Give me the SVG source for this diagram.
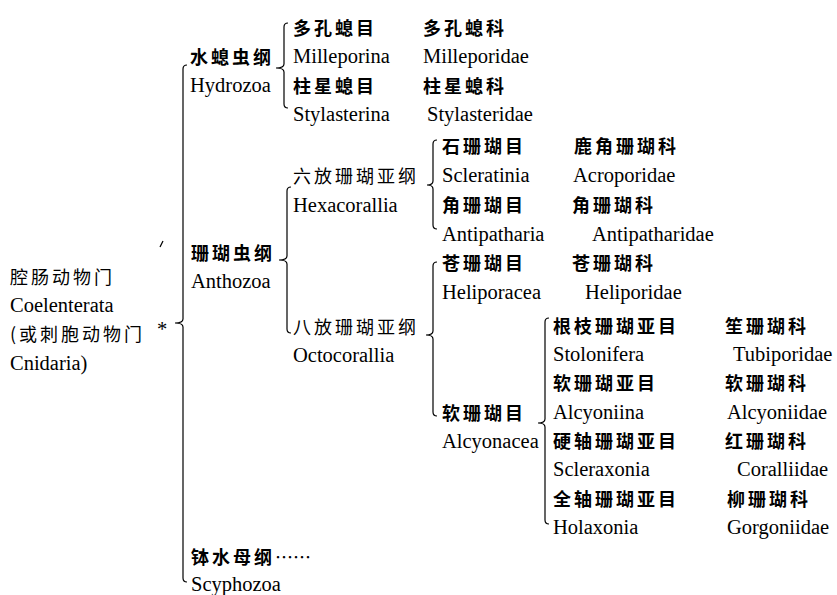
<svg xmlns="http://www.w3.org/2000/svg" width="837" height="595" viewBox="0 0 837 595">
<style>
.zh{font-family:"Noto Sans CJK SC","Noto Sans CJK TC",sans-serif;font-size:18px;font-weight:bold;letter-spacing:3px;fill:#000}
.zl{font-weight:normal}
.en{font-family:"Liberation Serif",serif;font-size:20.5px;fill:#000}
.br{fill:none;stroke:#000;stroke-width:1.2}
</style>
<rect width="837" height="595" fill="#fff"/>
<g id="connectors">
<path class="br" d="M187,65 Q183,65 183,69 L183,319 Q183,323 175,323 Q183,323 183,327 L183,578 Q183,582 187,582"/>
<path class="br" d="M288,23 Q284,23 284,27 L284,64 Q284,68 276,68 Q284,68 284,72 L284,104 Q284,108 288,108"/>
<path class="br" d="M291,187 Q287,187 287,191 L287,256 Q287,260 279,260 Q287,260 287,264 L287,329 Q287,333 291,333"/>
<path class="br" d="M437,140 Q433,140 433,144 L433,181 Q433,185 427,185 Q433,185 433,189 L433,225 Q433,229 437,229"/>
<path class="br" d="M437,262 Q433,262 433,266 L433,331 Q433,335 426,335 Q433,335 433,339 L433,412 Q433,416 437,416"/>
<path class="br" d="M549,318 Q545,318 545,322 L545,419 Q545,423 538,423 Q545,423 545,427 L545,520 Q545,524 549,524"/>
<path class="br" d="M160,247 L163,241"/>
</g>
<g id="phylum">
<text class="zh zl" x="10" y="284">腔肠动物门</text>
<text class="en" x="10" y="312">Coelenterata</text>
<text class="zh zl" x="10" y="341">(或刺胞动物门</text>
<text class="en" x="10" y="370">Cnidaria)</text>
<text class="en" x="157" y="336" font-size="18">*</text>
</g>
<g id="hydrozoa">
<text class="zh" x="190" y="64">水螅虫纲</text>
<text class="en" x="190" y="92">Hydrozoa</text>
</g>
<g id="milleporina">
<text class="zh" x="293" y="35">多孔螅目</text>
<text class="en" x="293" y="63">Milleporina</text>
</g>
<g id="milleporidae">
<text class="zh" x="423" y="35">多孔螅科</text>
<text class="en" x="423" y="63">Milleporidae</text>
</g>
<g id="stylasterina">
<text class="zh" x="293" y="93">柱星螅目</text>
<text class="en" x="293" y="121">Stylasterina</text>
</g>
<g id="stylasteridae">
<text class="zh" x="423" y="93">柱星螅科</text>
<text class="en" x="427" y="121">Stylasteridae</text>
</g>
<g id="anthozoa">
<text class="zh" x="191" y="260">珊瑚虫纲</text>
<text class="en" x="191" y="288">Anthozoa</text>
</g>
<g id="hexacorallia">
<text class="zh zl" x="293" y="183">六放珊瑚亚纲</text>
<text class="en" x="293" y="212">Hexacorallia</text>
</g>
<g id="scleratinia">
<text class="zh" x="442" y="153">石珊瑚目</text>
<text class="en" x="442" y="182">Scleratinia</text>
</g>
<g id="acroporidae">
<text class="zh" x="574" y="153">鹿角珊瑚科</text>
<text class="en" x="573" y="182">Acroporidae</text>
</g>
<g id="antipatharia">
<text class="zh" x="442" y="212">角珊瑚目</text>
<text class="en" x="442" y="241">Antipatharia</text>
</g>
<g id="antipatharidae">
<text class="zh" x="572" y="212">角珊瑚科</text>
<text class="en" x="592" y="241">Antipatharidae</text>
</g>
<g id="octocorallia">
<text class="zh zl" x="293" y="334">八放珊瑚亚纲</text>
<text class="en" x="293" y="362">Octocorallia</text>
</g>
<g id="heliporacea">
<text class="zh" x="442" y="270">苍珊瑚目</text>
<text class="en" x="442" y="299">Heliporacea</text>
</g>
<g id="heliporidae">
<text class="zh" x="572" y="270">苍珊瑚科</text>
<text class="en" x="585" y="299">Heliporidae</text>
</g>
<g id="alcyonacea">
<text class="zh" x="442" y="420">软珊瑚目</text>
<text class="en" x="442" y="448">Alcyonacea</text>
</g>
<g id="stolonifera">
<text class="zh" x="553" y="333">根枝珊瑚亚目</text>
<text class="en" x="553" y="361">Stolonifera</text>
</g>
<g id="tubiporidae">
<text class="zh" x="725" y="333">笙珊瑚科</text>
<text class="en" x="733" y="361">Tubiporidae</text>
</g>
<g id="alcyoniina">
<text class="zh" x="553" y="390">软珊瑚亚目</text>
<text class="en" x="553" y="419">Alcyoniina</text>
</g>
<g id="alcyoniidae">
<text class="zh" x="725" y="390">软珊瑚科</text>
<text class="en" x="727" y="419">Alcyoniidae</text>
</g>
<g id="scleraxonia">
<text class="zh" x="553" y="448">硬轴珊瑚亚目</text>
<text class="en" x="553" y="476">Scleraxonia</text>
</g>
<g id="coralliidae">
<text class="zh" x="725" y="448">红珊瑚科</text>
<text class="en" x="737" y="476">Coralliidae</text>
</g>
<g id="holaxonia">
<text class="zh" x="553" y="506">全轴珊瑚亚目</text>
<text class="en" x="553" y="534">Holaxonia</text>
</g>
<g id="gorgoniidae">
<text class="zh" x="727" y="506">柳珊瑚科</text>
<text class="en" x="727" y="534">Gorgoniidae</text>
</g>
<g id="scyphozoa">
<text class="zh" x="191" y="564">钵水母纲<tspan letter-spacing="0" font-weight="normal">……</tspan></text>
<text class="en" x="191" y="591">Scyphozoa</text>
</g>
</svg>
